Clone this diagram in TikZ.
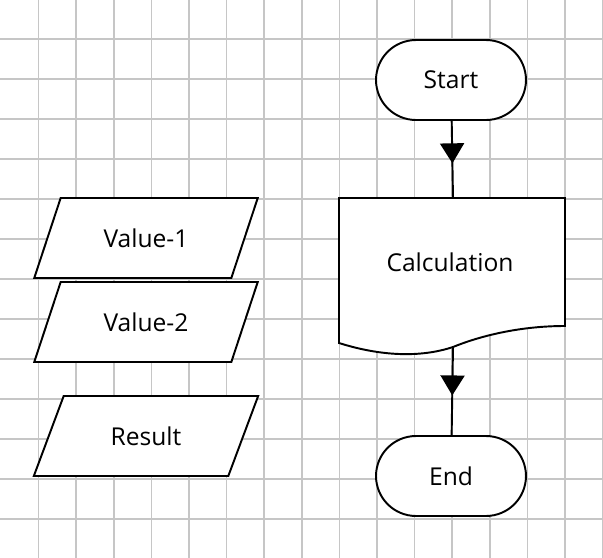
\documentclass[tikz,border=0pt]{standalone}
\usepackage{fontspec}
\setmainfont{Open Sans}
\usetikzlibrary{arrows.meta,shapes.geometric,decorations.markings}

\begin{document}
\begin{tikzpicture}
        [x=0.02cm,y=-0.02cm,line width=1.1pt,font=\fontsize{14}{16}\selectfont,
         term/.style={draw, rounded corners=0.8cm, minimum width=3cm, minimum height=1.6cm},
         io/.style={draw, trapezium, trapezium left angle=64, trapezium right angle=116,
           trapezium stretches=true, minimum width=4.5cm, minimum height=1.6cm},
         flow/.style={postaction={decorate},decoration={markings,
           mark=at position 0.55 with {\arrow{Triangle[width=0.48cm,length=0.4cm]}}}}]
        \useasboundingbox (0,0) rectangle (603,558);
        % grid
        \foreach \gx in {1,...,16} \draw[gray!45,line width=0.8pt] (1+37.6*\gx,0) -- (1+37.6*\gx,558);
        \foreach \gy in {1,...,13} \draw[gray!45,line width=0.8pt] (0,-1+40*\gy) -- (603,-1+40*\gy);
        \node[term,fill=white] (start) at (451,80) {Start};
        \node[term,fill=white] (end) at (451,476) {End};
        % document shape
        \filldraw[fill=white] (339,198) -- (565,198) -- (565,326)
          .. controls (515,326) and (475,338) .. (453,347)
          .. controls (420,358) and (380,356) .. (339,343) -- cycle;
        \node (calc) at (450,262) {Calculation};
        \coordinate (calcbot) at (453,347);
        \coordinate (calctop) at (453,198);
        \node[io,fill=white] (val1) at (146,238) {Value-1};
        \node[io,fill=white] (val2) at (146,322) {Value-2};
        \node[io,fill=white] (res) at (146,436) {Result};
        \draw[flow] (start) -- (calctop);
        \draw[flow] (calcbot) -- (end);
      \end{tikzpicture}
\end{document}
